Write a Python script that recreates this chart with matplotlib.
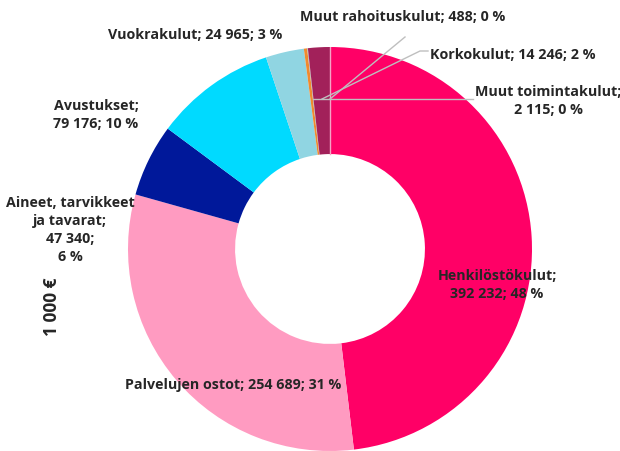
import matplotlib
matplotlib.use("Agg")
import matplotlib.pyplot as plt
from matplotlib.lines import Line2D

# kulut, 1 000 €
categories = ["Henkilöstökulut", "Palvelujen ostot", "Aineet, tarvikkeet ja tavarat",
              "Avustukset", "Vuokrakulut", "Muut toimintakulut",
              "Muut rahoituskulut", "Korkokulut"]
values = [392232, 254689, 47340, 79176, 24965, 2115, 488, 14246]
percents = [48, 31, 6, 10, 3, 0, 0, 2]
colors = ["#FF0066", "#FF9BC1", "#00189A", "#00DAFF", "#90D5E2",
          "#F08A2E", "#B0B0B0", "#A2215A"]

plt.rcParams["font.family"] = ["Open Sans", "DejaVu Sans"]

W, H = 620, 452
fig = plt.figure(figsize=(W / 100, H / 100), dpi=100)

cx, cy, R = 330, 250, 202
ax = fig.add_axes([(cx - R) / W, (H - cy - R) / H, 2 * R / W, 2 * R / H])
ax.pie(values, colors=colors, startangle=90, counterclock=False,
       wedgeprops=dict(width=0.53, linewidth=0))
ax.set_xlim(-1, 1)
ax.set_ylim(-1, 1)
ax.set_aspect("equal")
ax.axis("off")
# light seam at the start of the first slice
ax.plot([0, 0], [0.47, 1.0], color="#F5A3C6", lw=1)


def fmt(v):
    return f"{v:,}".replace(",", " ")


def px(x, y):
    return x / W, 1 - y / H


tc = "#262626"
fs = 10.3
lab = {c: (fmt(v), p) for c, v, p in zip(categories, values, percents)}

def put(x, y, s, ha="center"):
    fig.text(*px(x, y), s, ha=ha, va="center", fontsize=fs, fontweight="bold",
             color=tc, linespacing=1.38)

v, p = lab["Henkilöstökulut"]
put(497, 285, f"Henkilöstökulut;\n{v}; {p} %")
v, p = lab["Palvelujen ostot"]
put(233, 385, f"Palvelujen ostot; {v}; {p} %")
v, p = lab["Aineet, tarvikkeet ja tavarat"]
put(70, 230, f"Aineet, tarvikkeet\nja tavarat;\n{v};\n{p} %")
v, p = lab["Avustukset"]
put(96, 115, f"Avustukset;\n{v}; {p} %")
v, p = lab["Vuokrakulut"]
put(195, 35, f"Vuokrakulut; {v}; {p} %")
v, p = lab["Muut rahoituskulut"]
put(403, 17, f"Muut rahoituskulut; {v}; {p} %")
v, p = lab["Korkokulut"]
put(430, 55, f"Korkokulut; {v}; {p} %", ha="left")
v, p = lab["Muut toimintakulut"]
put(548, 101, f"Muut toimintakulut;\n{v}; {p} %")

fig.text(*px(52, 307), "1 000 €", rotation=90, ha="center", va="center",
         fontsize=12.5, fontweight="bold", color=tc)

# leader lines
lc = "#BFBFBF"
for xs, ys in [([313, 473], [100, 100]),
               ([322, 420, 428], [100, 52, 52]),
               ([330, 405], [100, 38])]:
    fig.add_artist(Line2D([x / W for x in xs], [1 - y / H for y in ys],
                          color=lc, lw=1))

fig.savefig("out.png", dpi=100)
